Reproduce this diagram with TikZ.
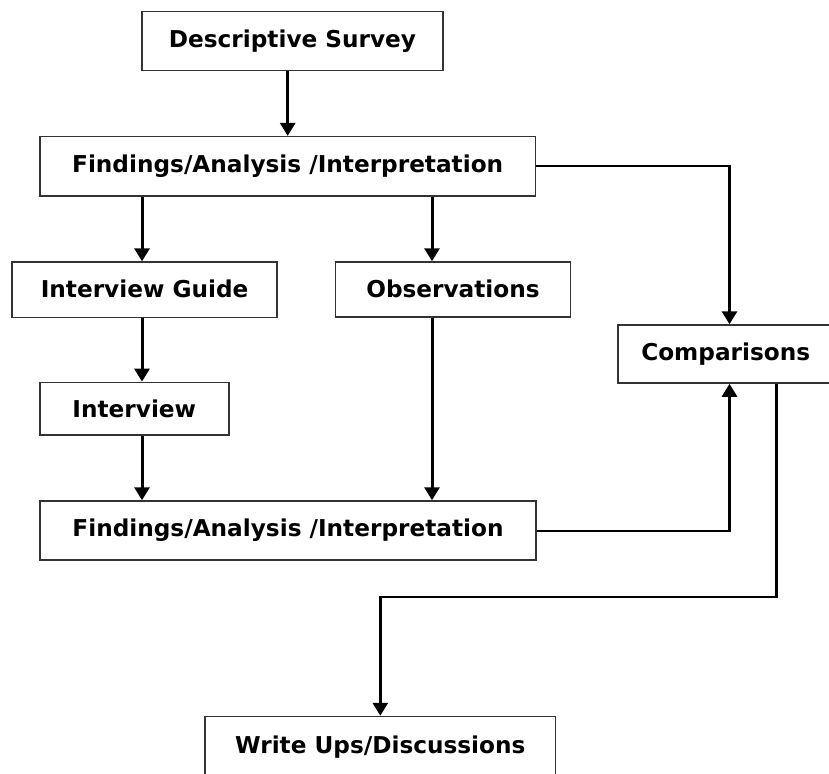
\documentclass[tikz,border=0pt]{standalone}
\usepackage{fontspec}
\setmainfont{DejaVu Sans}
\usetikzlibrary{arrows.meta,calc}
\begin{document}
\begin{tikzpicture}[x=1pt,y=-1pt,
  box/.style={draw=black!80,line width=1.5pt,fill=white,inner sep=0pt,
    font=\bfseries\fontsize{23.2}{27}\selectfont},
  arr/.style={line width=3pt,-{Triangle[width=15pt,length=13pt]}},
  vline/.style={line width=3pt},
  hline/.style={line width=2pt}]
\useasboundingbox (0,0) rectangle (829,773);
\clip (0,0) rectangle (829,773);
% boxes
\node[box,minimum width=301pt,minimum height=59pt] (ds) at (292.5,41.2) {\raisebox{2pt}{Descriptive Survey}};
\node[box,minimum width=495.5pt,minimum height=59.3pt] (f1) at (287.7,166.3) {\raisebox{2pt}{Findings/Analysis /Interpretation}};
\node[box,minimum width=265pt,minimum height=55.5pt] (ig) at (144.6,289.8) {\raisebox{2pt}{Interview Guide}};
\node[box,minimum width=235pt,minimum height=55pt] (ob) at (453,289.5) {\raisebox{2pt}{Observations}};
\node[box,minimum width=215pt,minimum height=58pt] (cmp) at (725.7,354) {\raisebox{1pt}{Comparisons}};
\node[box,minimum width=189pt,minimum height=52.7pt] (iv) at (134.3,408.7) {Interview};
\node[box,minimum width=496pt,minimum height=59pt] (f2) at (288,530.5) {Findings/Analysis /Interpretation};
\node[box,minimum width=350.6pt,minimum height=61pt] (wu) at (380.3,747) {\raisebox{2pt}{Write Ups/Discussions}};
% column guides
\coordinate (xa) at (142,0);
\coordinate (xb) at (432,0);
\coordinate (xc) at (729.5,0);
\coordinate (xd) at (776,0);
\coordinate (yd) at (0,597);
% straight arrows
\draw[arr] (ds.south -| f1.north) -- (f1.north);
\draw[arr] (f1.south -| xa) -- (ig.north -| xa);
\draw[arr] (f1.south -| xb) -- (ob.north -| xb);
\draw[arr] (ig.south -| xa) -- (iv.north -| xa);
\draw[arr] (iv.south -| xa) -- (f2.north -| xa);
\draw[arr] (ob.south -| xb) -- (f2.north -| xb);
% elbow: f1 -> comparisons
\draw[hline] (f1.east) -- ($(f1.east -| xc)+(1.5,0)$);
\draw[arr] ($(f1.east -| xc)+(0,-1)$) -- (cmp.north -| xc);
% elbow: f2 -> comparisons
\draw[hline] (f2.east) -- ($(f2.east -| xc)+(1.5,0)$);
\draw[arr] ($(f2.east -| xc)+(0,1)$) -- (cmp.south -| xc);
% comparisons -> write ups
\draw[vline] (cmp.south -| xd) -- ($(yd -| xd)+(0,1)$);
\draw[hline] ($(yd -| xd)+(1.5,0)$) -- ($(yd -| wu.north)+(-1.5,0)$);
\draw[arr] ($(yd -| wu.north)+(0,-1)$) -- (wu.north);
\end{tikzpicture}
\end{document}
